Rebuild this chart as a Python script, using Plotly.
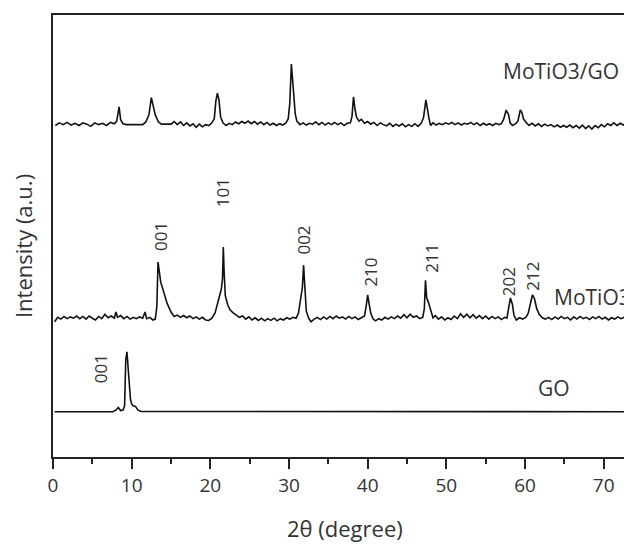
import plotly.graph_objects as go

# ---- data (2theta in degrees, stacked intensity in a.u.) ----
comp_x = [0.3,0.8,1.3,1.8,2.3,2.8,3.3,3.8,4.3,4.8,5.3,5.8,6.3,6.8,7.3,7.8,8.1,8.4,8.6,8.9,9.3,11.4,11.8,12.2,12.5,12.7,13.0,13.4,13.8,15.0,15.4,15.8,16.2,16.6,17.0,17.4,17.8,18.2,18.6,19.0,19.4,19.8,20.2,20.5,20.7,20.9,21.1,21.3,21.6,22.0,22.4,22.8,23.2,23.6,24.0,24.4,24.8,25.2,25.6,26.0,26.4,26.8,27.2,27.6,28.0,28.4,28.8,29.2,29.6,29.9,30.1,30.3,30.45,30.6,30.8,31.0,31.4,31.8,32.2,32.6,33.0,33.4,33.8,34.2,34.6,35.0,35.4,35.8,36.2,36.6,37.0,37.4,37.8,38.0,38.2,38.4,38.6,38.9,39.2,39.6,40.0,40.4,40.8,41.2,41.6,42.0,42.4,42.8,43.2,43.6,44.0,44.4,44.8,45.2,45.6,46.0,46.4,46.8,47.1,47.4,47.6,47.8,48.0,48.3,48.7,49.1,49.5,49.9,50.3,50.7,51.1,51.5,51.9,52.3,52.7,53.1,53.5,53.9,54.3,54.7,55.1,55.5,55.9,56.3,56.7,57.0,57.3,57.6,57.9,58.1,58.4,58.8,59.1,59.4,59.6,59.8,60.1,60.5,60.9,61.3,61.7,62.1,62.5,62.9,63.3,63.7,64.1,64.5,64.9,65.3,65.7,66.1,66.5,66.9,67.3,67.7,68.1,68.5,68.9,69.3,69.7,70.1,70.5,70.9,71.3,71.7,72.1,72.5,72.9,73.3,73.7,74.2]
comp_y = [75.0,75.6,75.2,75.7,75.1,75.5,75.0,75.6,75.3,74.8,75.6,75.2,75.5,75.0,75.7,75.4,76.0,79.2,76.3,75.4,75.2,75.2,75.8,77.5,81.3,80.0,77.4,75.8,75.3,75.3,75.9,75.2,75.8,75.0,75.6,74.9,75.4,74.6,75.3,74.7,75.2,75.0,75.6,76.5,80.5,82.3,80.8,77.0,75.6,75.0,75.5,75.2,75.8,75.4,75.9,75.5,76.0,75.4,75.9,75.3,75.8,75.2,75.7,75.1,75.5,75.0,75.4,75.1,75.6,76.5,80.0,88.9,86.0,82.0,77.5,76.0,75.2,75.6,75.1,75.5,75.3,75.8,75.2,75.7,75.1,75.6,75.2,75.7,75.2,75.6,75.0,75.5,75.6,77.0,81.5,78.5,76.8,76.0,76.4,75.5,75.9,75.3,75.7,75.0,75.6,75.2,74.9,75.5,74.8,75.3,74.9,75.4,74.7,75.2,74.8,75.4,74.8,75.5,76.8,80.8,78.5,76.5,75.0,75.6,75.1,75.5,75.2,75.6,75.3,75.7,75.2,75.6,75.1,75.5,75.3,75.7,75.2,75.6,75.0,75.5,75.1,75.4,75.0,75.5,75.2,75.4,76.5,78.5,77.5,75.6,75.0,75.4,76.0,78.5,78.0,76.5,75.8,75.0,75.5,74.9,75.4,74.8,75.3,74.9,75.2,74.7,75.1,74.6,75.0,74.6,75.1,74.5,75.0,74.4,75.1,74.3,74.9,74.2,75.0,74.5,75.2,74.7,75.4,75.0,75.6,75.0,75.5,75.1,75.6,75.2,75.5,75.2]

moti_x = [0.2,0.6,1.0,1.4,1.8,2.2,2.6,3.0,3.4,3.8,4.2,4.6,5.0,5.4,5.8,6.2,6.6,7.0,7.4,7.8,8.0,8.2,8.6,9.0,9.4,9.8,10.2,10.6,11.0,11.4,11.7,11.9,12.3,12.7,13.0,13.2,13.35,13.5,13.7,14.0,14.5,15.0,15.4,15.8,16.2,16.6,17.0,17.4,17.8,18.2,18.6,19.0,19.4,19.8,20.2,20.6,20.9,21.2,21.4,21.55,21.65,21.75,21.9,22.2,22.5,22.9,23.3,23.7,24.1,24.5,24.9,25.3,25.7,26.1,26.5,26.9,27.3,27.7,28.1,28.5,28.9,29.3,29.7,30.1,30.5,30.9,31.2,31.5,31.7,31.85,32.0,32.2,32.5,32.8,33.2,33.6,34.0,34.4,34.8,35.2,35.6,36.0,36.4,36.8,37.2,37.6,38.0,38.4,38.8,39.2,39.6,39.8,40.0,40.2,40.4,40.7,41.0,41.4,41.8,42.2,42.6,43.0,43.4,43.8,44.2,44.6,45.0,45.4,45.8,46.2,46.6,47.0,47.2,47.35,47.5,47.7,48.0,48.3,48.6,49.0,49.4,49.8,50.2,50.6,51.0,51.4,51.8,52.2,52.6,53.0,53.4,53.8,54.2,54.6,55.0,55.4,55.8,56.2,56.6,57.0,57.4,57.7,57.9,58.15,58.4,58.6,58.9,59.3,59.7,60.1,60.4,60.7,60.95,61.2,61.5,61.8,62.2,62.6,63.0,63.4,63.8,64.2,64.6,65.0,65.4,65.8,66.2,66.6,67.0,67.4,67.8,68.2,68.6,69.0,69.4,69.8,70.2,70.6,71.0,71.4,71.8,72.2,72.6,73.0,73.4,73.8,74.2]
moti_y = [30.6,31.6,31.2,31.8,31.3,31.7,31.4,31.9,31.3,31.8,31.2,31.9,31.4,31.0,31.8,31.3,32.3,31.5,31.9,31.4,32.8,31.6,32.0,31.3,31.8,31.2,31.6,31.3,31.7,31.4,32.8,31.3,31.6,31.0,31.2,34.0,44.1,42.5,39.5,37.8,34.8,32.8,31.8,32.1,31.6,32.0,31.5,31.9,31.3,31.7,31.2,31.6,31.0,30.9,31.4,32.6,34.8,37.2,38.0,40.5,47.5,42.0,36.5,34.5,33.3,32.6,32.0,31.6,31.9,31.2,31.7,31.0,31.5,30.9,31.4,30.8,31.3,30.9,31.4,30.8,31.3,31.0,31.5,31.2,31.6,31.4,32.5,36.0,38.4,43.4,38.0,33.0,31.4,30.6,31.2,31.6,31.1,31.7,31.2,31.8,31.3,31.9,31.4,31.7,31.2,31.8,31.3,31.7,31.1,31.6,31.9,34.0,36.7,34.5,32.5,31.2,30.8,31.3,31.0,31.6,31.2,31.7,31.3,31.9,31.4,32.2,31.5,32.3,31.6,31.9,31.3,31.6,33.5,40.0,36.0,35.1,33.0,31.5,32.0,31.2,31.7,31.0,31.5,31.1,31.9,31.3,32.4,31.6,32.3,31.5,32.2,31.4,32.0,31.3,31.9,31.2,31.8,31.3,31.7,31.1,31.6,31.4,33.5,36.0,34.5,32.0,31.0,31.5,31.2,31.6,32.5,35.0,36.7,35.8,33.5,32.3,31.5,31.2,31.6,31.1,31.7,31.2,31.8,31.3,31.6,31.0,31.7,31.2,31.8,31.3,31.6,31.1,31.7,31.3,31.8,31.2,31.6,31.0,31.5,31.2,31.7,31.3,31.6,31.1,31.5,31.2,31.6]

go_x = [0.2,7.6,8.0,8.3,8.6,8.9,9.1,9.25,9.4,9.55,9.7,9.85,10.0,10.2,10.5,10.8,11.2,74.2]
go_y = [10.25,10.25,10.6,11.2,10.5,10.6,11.5,22.0,23.8,20.5,15.5,13.0,12.0,11.6,11.4,10.6,10.3,10.25]

series_names = ["MoTiO3/GO", "MoTiO3", "GO"]
series_label_x = [64.6, 63.4, 63.7]
series_label_y = [87.4, 36.1, 15.7]

peak_labels = ["001", "101", "002", "210", "211", "202", "212", "001"]
peak_label_x = [13.6, 21.5, 31.8, 40.4, 48.0, 58.0, 61.0, 6.0]
peak_label_y = [50.0, 59.7, 49.0, 41.9, 45.0, 39.6, 41.0, 19.9]

x_ticks = [0, 10, 20, 30, 40, 50, 60, 70]

TXT = "#333333"
FONT = "Open Sans"

fig = go.Figure()
for xs, ys in [(comp_x, comp_y), (moti_x, moti_y), (go_x, go_y)]:
    fig.add_trace(go.Scatter(x=xs, y=ys, mode="lines",
                             line=dict(color="#111111", width=1.6),
                             showlegend=False, hoverinfo="skip"))

anns = []
for i, name in enumerate(series_names):
    anns.append(dict(x=series_label_x[i], y=series_label_y[i], text=name,
                     showarrow=False, xanchor="left" if name == "MoTiO3" else "center",
                     yanchor="middle", font=dict(size=21, color=TXT, family=FONT)))
for i, lab in enumerate(peak_labels):
    anns.append(dict(x=peak_label_x[i], y=peak_label_y[i], text=lab, textangle=-90,
                     showarrow=False, xanchor="center", yanchor="middle",
                     font=dict(size=17, color=TXT, family=FONT)))
anns.append(dict(x=0.504, y=-0.160, xref="paper", yref="paper", text="2θ (degree)",
                 showarrow=False, xanchor="center", yanchor="middle",
                 font=dict(size=22, color=TXT, family=FONT)))
anns.append(dict(x=-0.052, y=0.477, xref="paper", yref="paper", text="Intensity (a.u.)",
                 textangle=-90, showarrow=False, xanchor="center", yanchor="middle",
                 font=dict(size=22, color=TXT, family=FONT)))

fig.update_layout(
    width=624, height=536,
    margin=dict(l=45, r=0, t=7, b=87),
    paper_bgcolor="white", plot_bgcolor="white",
    annotations=anns,
    xaxis=dict(range=[0, 73.6], tickvals=x_ticks, ticks="outside", ticklen=10,
               tickwidth=2, tickcolor="#222", showline=True, linewidth=2,
               linecolor="#222", mirror=True, showgrid=False, zeroline=False,
               tickfont=dict(size=19, color=TXT, family=FONT),
               minor=dict(dtick=5, ticks="outside", ticklen=5, tickwidth=2,
                          tickcolor="#222", showgrid=False)),
    yaxis=dict(range=[0, 100], showticklabels=False, ticks="", showline=True,
               linewidth=2, linecolor="#222", mirror=False, showgrid=False,
               zeroline=False),
)
fig.write_html("out.html")
